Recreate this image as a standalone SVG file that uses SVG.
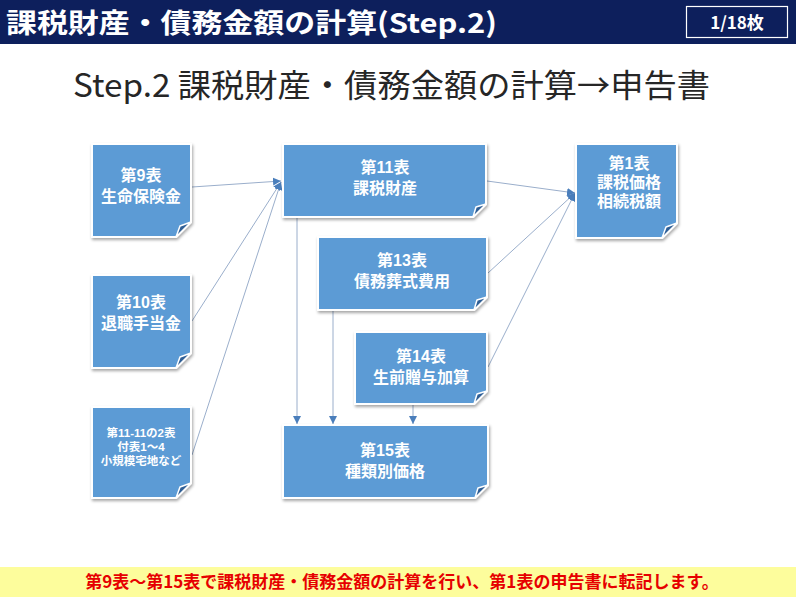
<svg xmlns="http://www.w3.org/2000/svg" width="796" height="597" viewBox="0 0 796 597">
<style>
.hdr{font-family:"Noto Sans CJK JP","Liberation Sans",sans-serif;font-weight:700;fill:#fff}
.sub{font-family:"Noto Sans CJK JP","Liberation Sans",sans-serif;font-weight:400;fill:#262626}
.box{fill:#5b9bd5;stroke:#fff;stroke-width:2;filter:url(#sh)}
.fold{fill:#2f5f96;stroke:#fff;stroke-width:1.5;stroke-linejoin:round}
.nt{font-family:"Liberation Sans","Noto Sans CJK JP",sans-serif;font-weight:700;fill:#fff;font-size:16px;text-anchor:middle}
.ns{font-size:11.5px}
.edge{stroke:#9aaecb;stroke-width:1;fill:none;marker-end:url(#ah)}
.foot{font-family:"Noto Sans CJK JP","Liberation Sans",sans-serif;font-weight:700;fill:#e60000;font-size:17px;text-anchor:middle}
</style>
<defs>
<filter id="sh" x="-10%" y="-10%" width="130%" height="130%">
<feDropShadow dx="1" dy="2" stdDeviation="1.8" flood-color="#000" flood-opacity="0.35"/>
</filter>
<marker id="ah" markerUnits="userSpaceOnUse" markerWidth="9" markerHeight="8" refX="8" refY="4" orient="auto">
<path d="M0,0 L8,4 L0,8 Z" fill="#4a7ebb"/>
</marker>
</defs>
<rect x="0" y="0" width="796" height="44" fill="#0d1f5c"/>
<text class="hdr" x="6" y="33" font-size="27" textLength="491" lengthAdjust="spacingAndGlyphs">課税財産・債務金額の計算(Step.2)</text>
<rect x="686.5" y="6.5" width="101" height="31" fill="none" stroke="#fff" stroke-width="1.2"/>
<text class="hdr" x="737" y="29" font-size="17" text-anchor="middle">1/18枚</text>
<text class="sub" x="73" y="97" font-size="32" textLength="637" lengthAdjust="spacingAndGlyphs">Step.2 課税財産・債務金額の計算→申告書</text>
<g id="connectors">
<line class="edge" x1="192" y1="187" x2="281" y2="181"/>
<line class="edge" x1="192" y1="321" x2="281" y2="182"/>
<line class="edge" x1="192" y1="455" x2="281" y2="182"/>
<line class="edge" x1="487" y1="181" x2="575" y2="193"/>
<line class="edge" x1="488" y1="273" x2="575" y2="193"/>
<line class="edge" x1="488" y1="367" x2="575" y2="193"/>
<line class="edge" x1="297" y1="218" x2="297" y2="424"/>
<line class="edge" x1="333" y1="311" x2="333" y2="424"/>
<line class="edge" x1="413" y1="405" x2="413" y2="424"/>
</g>
<g id="n9">
<path class="box" d="M92,144 H191 V222 L176,237 H92 Z"/>
<path class="fold" d="M191,222 L180,226 L176,237 Z"/>
<text class="nt" x="141" y="181"><tspan x="141">第9表</tspan><tspan x="141" dy="21">生命保険金</tspan></text>
</g>
<g id="n10">
<path class="box" d="M92,275 H191 V353 L176,368 H92 Z"/>
<path class="fold" d="M191,353 L180,357 L176,368 Z"/>
<text class="nt" x="141" y="308"><tspan x="141">第10表</tspan><tspan x="141" dy="21">退職手当金</tspan></text>
</g>
<g id="n11-11">
<path class="box" d="M92,407 H191 V483 L176,498 H92 Z"/>
<path class="fold" d="M191,483 L180,487 L176,498 Z"/>
<text class="nt ns" x="141" y="437"><tspan x="141">第11-11の2表</tspan><tspan x="141" dy="14">付表1～4</tspan><tspan x="141" dy="14">小規模宅地など</tspan></text>
</g>
<g id="n11">
<path class="box" d="M283,144 H486 V204 L473,217 H283 Z"/>
<path class="fold" d="M486,204 L476,207 L473,217 Z"/>
<text class="nt" x="385" y="173"><tspan x="385">第11表</tspan><tspan x="385" dy="21">課税財産</tspan></text>
</g>
<g id="n13">
<path class="box" d="M318,237 H487 V297 L474,310 H318 Z"/>
<path class="fold" d="M487,297 L477,300 L474,310 Z"/>
<text class="nt" x="402" y="266"><tspan x="402">第13表</tspan><tspan x="402" dy="21">債務葬式費用</tspan></text>
</g>
<g id="n14">
<path class="box" d="M355,332 H487 V391 L474,404 H355 Z"/>
<path class="fold" d="M487,391 L477,394 L474,404 Z"/>
<text class="nt" x="421" y="362"><tspan x="421">第14表</tspan><tspan x="421" dy="21">生前贈与加算</tspan></text>
</g>
<g id="n15">
<path class="box" d="M283,425 H488 V485 L475,498 H283 Z"/>
<path class="fold" d="M488,485 L478,488 L475,498 Z"/>
<text class="nt" x="385" y="456"><tspan x="385">第15表</tspan><tspan x="385" dy="21">種類別価格</tspan></text>
</g>
<g id="n1">
<path class="box" d="M576,144 H677 V223 L662,238 H576 Z"/>
<path class="fold" d="M677,223 L666,227 L662,238 Z"/>
<text class="nt" x="629" y="169"><tspan x="629">第1表</tspan><tspan x="629" dy="19">課税価格</tspan><tspan x="629" dy="19">相続税額</tspan></text>
</g>
<rect x="0" y="567" width="796" height="30" fill="#fdfd9c"/>
<text class="foot" x="402" y="588">第9表～第15表で課税財産・債務金額の計算を行い、第1表の申告書に転記します。</text>
</svg>
